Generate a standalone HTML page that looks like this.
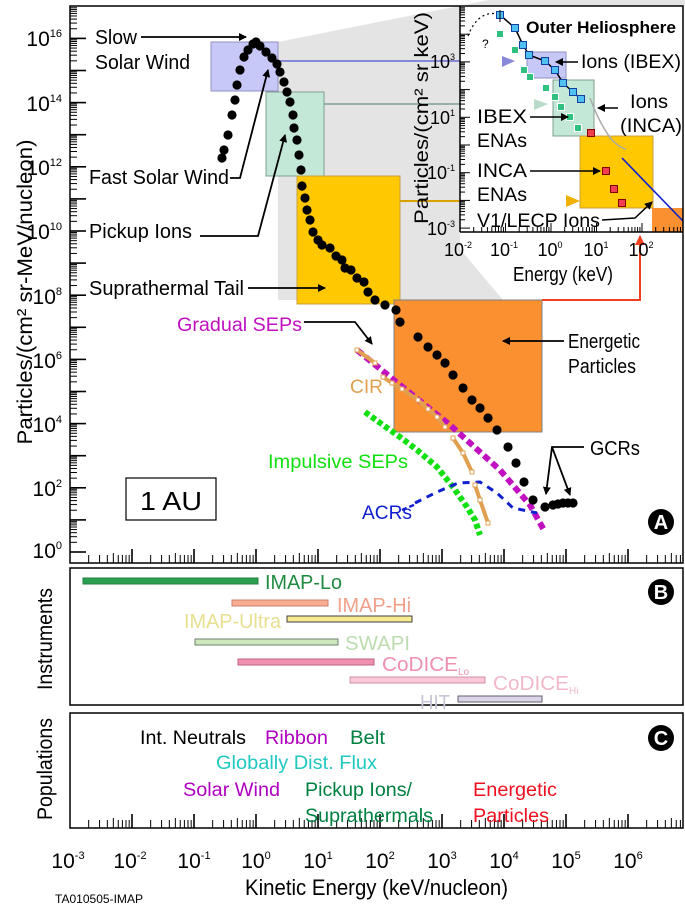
<!DOCTYPE html>
<html><head><meta charset="utf-8"><style>
html,body{margin:0;padding:0;background:#fff;}
svg{display:block;font-family:"Liberation Sans",sans-serif;}
</style></head><body>
<svg id="s" width="685" height="910" viewBox="0 0 685 910" xmlns="http://www.w3.org/2000/svg">
<defs>
<marker id="ah" markerWidth="8" markerHeight="8" refX="7" refY="4" orient="auto" markerUnits="userSpaceOnUse"><path d="M0,0 L8,4 L0,8 z" fill="#000"/></marker>
<marker id="ahr" markerWidth="10" markerHeight="10" refX="9" refY="5" orient="auto" markerUnits="userSpaceOnUse"><path d="M0,0 L10,5 L0,10 z" fill="#f04020"/></marker>
</defs>
<rect x="0" y="0" width="685" height="910" fill="#fff"/>
<polygon points="278,42 690,-40 690,6 460,6 460,249 503,300 278,300" fill="#e4e4e4"/>
<line x1="278" y1="61" x2="515" y2="61" stroke="#8888d8" stroke-width="2"/>
<line x1="324" y1="104" x2="545" y2="104" stroke="#80a090" stroke-width="1.5"/>
<line x1="400" y1="201" x2="578" y2="201" stroke="#d8a000" stroke-width="2"/>
<rect x="211" y="42" width="67" height="49" fill="#c8c8f8" stroke="#9090c0"/>
<rect x="266" y="92" width="58" height="84" fill="#c4e8d8" stroke="#80a090"/>
<rect x="297" y="176" width="103" height="128" fill="#ffc800" stroke="#c8a040"/>
<rect x="394" y="300" width="148" height="132" fill="#fa9030" stroke="#808080"/>
<polyline points="542,300 640,300 640,236" fill="none" stroke="#f04020" stroke-width="2" marker-end="url(#ahr)"/>
<rect x="460" y="6" width="223" height="226" fill="#fff"/>
<rect x="527" y="52" width="39" height="26" fill="#c8c8f8" stroke="#9090c0"/>
<rect x="553" y="80" width="41" height="56" fill="#c4e8d8" stroke="#80a090"/>
<rect x="580" y="136" width="73" height="72" fill="#ffc800" stroke="#c8a040"/>
<rect x="652" y="208" width="31" height="24" fill="#fa9030"/>
<polygon points="502,56 515,61 502,67" fill="#8888d8"/>
<polygon points="534,99 548,104 534,110" fill="#b8dcc8"/>
<polygon points="566,195 580,201 566,207" fill="#f0b000"/>
<path d="M590,98 Q600,125 612,140 Q620,148 626,149" fill="none" stroke="#aaa" stroke-width="1.5"/>
<line x1="622" y1="158" x2="683" y2="221" stroke="#1020d0" stroke-width="1.6"/>
<path d="M468,36 Q478,10 498,14" fill="none" stroke="#000" stroke-dasharray="2,3" stroke-width="1.2"/>
<text x="482" y="48" font-size="12">?</text>
<g id="inset"></g>
<line x1="460" y1="6" x2="460" y2="232" stroke="#000" stroke-width="1.5"/>
<line x1="460" y1="232" x2="683" y2="232" stroke="#000" stroke-width="1.5"/>
<g font-size="19" fill="#000">
<text x="526" y="33" font-weight="bold" font-size="17" textLength="150" lengthAdjust="spacingAndGlyphs">Outer Heliosphere</text>
<text x="581" y="68" textLength="100" lengthAdjust="spacingAndGlyphs">Ions (IBEX)</text>
<text x="630" y="108" textLength="38" lengthAdjust="spacingAndGlyphs">Ions</text><text x="620" y="132" textLength="62" lengthAdjust="spacingAndGlyphs">(INCA)</text>
<text x="477" y="123" textLength="50" lengthAdjust="spacingAndGlyphs">IBEX</text><text x="477" y="147" textLength="50" lengthAdjust="spacingAndGlyphs">ENAs</text>
<text x="477" y="177" textLength="50" lengthAdjust="spacingAndGlyphs">INCA</text><text x="477" y="201" textLength="50" lengthAdjust="spacingAndGlyphs">ENAs</text>
<text x="477" y="227" textLength="123" lengthAdjust="spacingAndGlyphs">V1/LECP Ions</text>
<text x="513" y="281" font-size="20" textLength="100" lengthAdjust="spacingAndGlyphs">Energy (keV)</text>
</g>
<line x1="578" y1="62" x2="556" y2="62" stroke="#000" stroke-width="1.5" marker-end="url(#ah)"/>
<line x1="618" y1="108" x2="598" y2="108" stroke="#000" stroke-width="1.5" marker-end="url(#ah)"/>
<line x1="530" y1="117" x2="568" y2="117" stroke="#000" stroke-width="1.5" marker-end="url(#ah)"/>
<line x1="530" y1="171" x2="600" y2="171" stroke="#000" stroke-width="1.5" marker-end="url(#ah)"/>
<polyline points="602,220 635,218 652,202" fill="none" stroke="#000" stroke-width="1.5" marker-end="url(#ah)"/>
<text transform="translate(428,118) rotate(-90)" text-anchor="middle" font-size="19" textLength="212" lengthAdjust="spacingAndGlyphs">Particles/(cm² sr keV)</text>
<g font-size="18" text-anchor="middle">
<text x="458" y="256">10<tspan font-size="9" dy="-8">-2</tspan></text>
<text x="504" y="256">10<tspan font-size="9" dy="-8">-1</tspan></text>
<text x="550" y="256">10<tspan font-size="9" dy="-8">0</tspan></text>
<text x="596" y="256">10<tspan font-size="9" dy="-8">1</tspan></text>
<text x="641" y="256">10<tspan font-size="9" dy="-8">2</tspan></text>
</g>
<g font-size="18" text-anchor="end">
<text x="455" y="68">10<tspan font-size="9" dy="-8">3</tspan></text>
<text x="455" y="124">10<tspan font-size="9" dy="-8">1</tspan></text>
<text x="455" y="179">10<tspan font-size="9" dy="-8">-1</tspan></text>
<text x="455" y="235">10<tspan font-size="9" dy="-8">-3</tspan></text>
</g>
<rect x="70" y="6" width="613" height="557" fill="none" stroke="#000" stroke-width="1.5"/>
<rect x="70" y="568" width="613" height="137" fill="none" stroke="#000" stroke-width="1.5"/>
<rect x="70" y="713" width="613" height="115" fill="none" stroke="#000" stroke-width="1.5"/>
<g id="ticks"></g>
<g id="series"></g>
<g font-size="20" fill="#000">
<text x="95" y="44" textLength="42" lengthAdjust="spacingAndGlyphs">Slow</text><text x="95" y="69" textLength="95" lengthAdjust="spacingAndGlyphs">Solar Wind</text>
<text x="89" y="184" textLength="140" lengthAdjust="spacingAndGlyphs">Fast Solar Wind</text>
<text x="89" y="238" textLength="103" lengthAdjust="spacingAndGlyphs">Pickup Ions</text>
<text x="89" y="295" textLength="155" lengthAdjust="spacingAndGlyphs">Suprathermal Tail</text>
<text x="568" y="348" textLength="72" lengthAdjust="spacingAndGlyphs">Energetic</text><text x="568" y="373" textLength="68" lengthAdjust="spacingAndGlyphs">Particles</text>
<text x="590" y="455" textLength="50" lengthAdjust="spacingAndGlyphs">GCRs</text>
</g>
<text x="177" y="331" font-size="19" fill="#c010c0" textLength="125" lengthAdjust="spacingAndGlyphs">Gradual SEPs</text>
<text x="350" y="393" font-size="19" fill="#e0a050" textLength="33" lengthAdjust="spacingAndGlyphs">CIR</text>
<text x="268" y="468" font-size="19" fill="#10e010" textLength="140" lengthAdjust="spacingAndGlyphs">Impulsive SEPs</text>
<text x="362" y="519" font-size="19" fill="#1020d0" textLength="50" lengthAdjust="spacingAndGlyphs">ACRs</text>
<rect x="126" y="478" width="90" height="42" fill="#fff" stroke="#000" stroke-width="1.2"/>
<text x="171" y="510" font-size="26" text-anchor="middle" textLength="62" lengthAdjust="spacingAndGlyphs">1 AU</text>
<g stroke="#000" stroke-width="1.8" fill="none">
<line x1="141" y1="37" x2="246" y2="37" marker-end="url(#ah)"/>
<polyline points="230,178 240,178 268,70" marker-end="url(#ah)"/>
<polyline points="200,236 258,236 285,135" marker-end="url(#ah)"/>
<line x1="248" y1="288" x2="325" y2="288" marker-end="url(#ah)"/>
<polyline points="304,322 355,322 372,344" marker-end="url(#ah)"/>
<line x1="564" y1="341" x2="503" y2="341" marker-end="url(#ah)"/>
<polyline points="584,447 552,447 546,494" marker-end="url(#ah)"/>
<line x1="552" y1="447" x2="570" y2="495" marker-end="url(#ah)"/>
</g>
<line x1="402" y1="510" x2="416" y2="504" stroke="#1020d0" stroke-width="2.5" stroke-dasharray="5,3"/>
<text transform="translate(32,292) rotate(-90)" text-anchor="middle" font-size="21" textLength="305" lengthAdjust="spacingAndGlyphs">Particles/(cm² sr-MeV/nucleon)</text>
<g font-size="21" text-anchor="end">
<text x="62" y="46">10<tspan font-size="11" dy="-9">16</tspan></text>
<text x="62" y="111">10<tspan font-size="11" dy="-9">14</tspan></text>
<text x="62" y="175">10<tspan font-size="11" dy="-9">12</tspan></text>
<text x="62" y="239">10<tspan font-size="11" dy="-9">10</tspan></text>
<text x="62" y="304">10<tspan font-size="11" dy="-9">8</tspan></text>
<text x="62" y="368">10<tspan font-size="11" dy="-9">6</tspan></text>
<text x="62" y="432">10<tspan font-size="11" dy="-9">4</tspan></text>
<text x="62" y="496">10<tspan font-size="11" dy="-9">2</tspan></text>
<text x="62" y="558">10<tspan font-size="11" dy="-9">0</tspan></text>
</g>
<g font-size="20" font-weight="bold" fill="#fff" text-anchor="middle">
<circle cx="661" cy="522" r="13" fill="#000"/><text x="661" y="529">A</text>
<circle cx="661" cy="592" r="13" fill="#000"/><text x="661" y="599">B</text>
<circle cx="661" cy="738" r="13" fill="#000"/><text x="661" y="745">C</text>
</g>
<g stroke-width="1">
<rect x="83" y="578" width="175" height="6" fill="#2aa050" stroke="#208040"/>
<rect x="232" y="600" width="96" height="6" fill="#f7ad90" stroke="#d08070"/>
<rect x="287" y="616" width="125" height="6" fill="#f7ea90" stroke="#404040"/>
<rect x="195" y="639" width="143" height="6" fill="#cce8bc" stroke="#708070"/>
<rect x="238" y="659" width="136" height="6" fill="#f090b0" stroke="#c06080"/>
<rect x="350" y="677" width="135" height="6" fill="#f8c8d8" stroke="#d090a0"/>
<rect x="458" y="696" width="84" height="6" fill="#dcd4e8" stroke="#606070"/>
</g>
<g font-size="20">
<text x="265" y="589" fill="#208a40" textLength="77" lengthAdjust="spacingAndGlyphs">IMAP-Lo</text>
<text x="337" y="612" fill="#f0a088" textLength="74" lengthAdjust="spacingAndGlyphs">IMAP-Hi</text>
<text x="184" y="628" fill="#e8e090" textLength="97" lengthAdjust="spacingAndGlyphs">IMAP-Ultra</text>
<text x="345" y="650" fill="#bcdcb0" textLength="65" lengthAdjust="spacingAndGlyphs">SWAPI</text>
<text x="382" y="671" fill="#f090b0"><tspan textLength="76" lengthAdjust="spacingAndGlyphs">CoDICE</tspan><tspan font-size="10" dy="4">Lo</tspan></text>
<text x="493" y="690" fill="#f0b8c8"><tspan textLength="76" lengthAdjust="spacingAndGlyphs">CoDICE</tspan><tspan font-size="10" dy="4">Hi</tspan></text>
<text x="420" y="709" fill="#c8c4d8" textLength="30" lengthAdjust="spacingAndGlyphs">HIT</text>
</g>
<g font-size="19">
<text x="140" y="744" fill="#000" textLength="106" lengthAdjust="spacingAndGlyphs">Int. Neutrals</text>
<text x="265" y="744" fill="#b000c0" textLength="63" lengthAdjust="spacingAndGlyphs">Ribbon</text>
<text x="350" y="744" fill="#008040" textLength="35" lengthAdjust="spacingAndGlyphs">Belt</text>
<text x="216" y="769" fill="#20c8c0" textLength="161" lengthAdjust="spacingAndGlyphs">Globally Dist. Flux</text>
<text x="183" y="796" fill="#b000c0" textLength="97" lengthAdjust="spacingAndGlyphs">Solar Wind</text>
<text x="305" y="796" fill="#008040" textLength="107" lengthAdjust="spacingAndGlyphs">Pickup Ions/</text>
<text x="305" y="822" fill="#008040" textLength="128" lengthAdjust="spacingAndGlyphs">Suprathermals</text>
<text x="473" y="796" fill="#f01020" textLength="84" lengthAdjust="spacingAndGlyphs">Energetic</text>
<text x="473" y="822" fill="#f01020" textLength="76" lengthAdjust="spacingAndGlyphs">Particles</text>
</g>
<text transform="translate(52,639) rotate(-90)" text-anchor="middle" font-size="21" textLength="102" lengthAdjust="spacingAndGlyphs">Instruments</text>
<text transform="translate(52,769) rotate(-90)" text-anchor="middle" font-size="21" textLength="102" lengthAdjust="spacingAndGlyphs">Populations</text>
<g font-size="21" text-anchor="middle">
<text x="68" y="868">10<tspan font-size="11" dy="-9">-3</tspan></text>
<text x="130" y="868">10<tspan font-size="11" dy="-9">-2</tspan></text>
<text x="194" y="868">10<tspan font-size="11" dy="-9">-1</tspan></text>
<text x="256" y="868">10<tspan font-size="11" dy="-9">0</tspan></text>
<text x="318" y="868">10<tspan font-size="11" dy="-9">1</tspan></text>
<text x="380" y="868">10<tspan font-size="11" dy="-9">2</tspan></text>
<text x="442" y="868">10<tspan font-size="11" dy="-9">3</tspan></text>
<text x="504" y="868">10<tspan font-size="11" dy="-9">4</tspan></text>
<text x="566" y="868">10<tspan font-size="11" dy="-9">5</tspan></text>
<text x="628" y="868">10<tspan font-size="11" dy="-9">6</tspan></text>
</g>
<text x="245" y="895" font-size="22" textLength="263" lengthAdjust="spacingAndGlyphs">Kinetic Energy (keV/nucleon)</text>
<text x="55" y="903" font-size="12" textLength="88" lengthAdjust="spacingAndGlyphs">TA010505-IMAP</text>
</svg>
<script>
(function(){
var NS="http://www.w3.org/2000/svg";
function el(p,t,a){var e=document.createElementNS(NS,t);for(var k in a)e.setAttribute(k,a[k]);p.appendChild(e);return e;}
var T=document.getElementById("ticks"),S=document.getElementById("series"),I=document.getElementById("inset");
[563,828].forEach(function(yb){
 for(var d=-3;d<7;d++){for(var m=1;m<10;m++){var x=256+62*(d+Math.log10(m));if(x<71||x>682)continue;
  var L=m==1?14:(m==5?10:8);el(T,"line",{x1:x,y1:yb,x2:x,y2:yb-L,stroke:"#000","stroke-width":m==1?1.6:1});}}
});
for(var d=0;d<17;d++){for(var m=1;m<10;m++){var y=552-32.1*(d+Math.log10(m));if(y<7||y>562)continue;
 var L=m==1?16:7;el(T,"line",{x1:70,y1:y,x2:70+L,y2:y,stroke:"#000","stroke-width":m==1?1.6:1});}}
for(var d=-2;d<3;d++){for(var m=1;m<10;m++){var x=551+45.5*(d+Math.log10(m));if(x<460||x>683)continue;
 el(I,"line",{x1:x,y1:232,x2:x,y2:232-(m==1?9:5),stroke:"#000","stroke-width":1});}}
for(var d=-3;d<5;d++){for(var m=1;m<10;m++){var y=145-27.7*(d+Math.log10(m));if(y<6||y>232)continue;
 el(I,"line",{x1:460,y1:y,x2:460+(m==1?10:5),y2:y,stroke:"#000","stroke-width":1});}}
var ib=[[500,15],[515,28],[523,45],[529,55],[545,61],[555,70],[563,83],[573,92],[581,99]];
el(I,"polyline",{points:ib.map(function(p){return p.join(",")}).join(" "),fill:"none",stroke:"#000","stroke-width":1.5});
ib.forEach(function(p){el(I,"rect",{x:p[0]-3.5,y:p[1]-3.5,width:7,height:7,fill:"#50c0f0",stroke:"#1040a0"});});
el(I,"line",{x1:500,y1:10,x2:500,y2:22,stroke:"#000"});
[[500,34],[515,50],[524,70],[530,77],[546,88],[555,97],[561,107],[570,117],[578,128]].forEach(function(p){el(I,"rect",{x:p[0]-3.5,y:p[1]-3.5,width:7,height:7,fill:"#30c080",stroke:"#fff"});});
[[591,133],[606,171],[614,189],[622,203]].forEach(function(p){el(I,"rect",{x:p[0]-3.5,y:p[1]-3.5,width:7,height:7,fill:"#f04050",stroke:"#800"});});
function pl(pts,c,w,da){el(S,"polyline",{points:pts.map(function(p){return p.join(",")}).join(" "),fill:"none",stroke:c,"stroke-width":w,"stroke-dasharray":da,"stroke-linecap":"butt"});}
pl([[365,412],[383,425],[400,437],[417,450],[437,467],[453,487],[467,507],[475,520],[480,535]],"#10e010",6,"5,3");
pl([[357,350],[400,385],[450,425],[500,470],[530,505],[545,532]],"#c010c0",6,"7,4");
pl([[415,503],[437,492],[458,483],[480,482],[497,493],[513,508],[537,513]],"#1020d0",3,"7,6");
[[[357,350],[375,363]],[[383,377],[392,383],[402,389],[418,400],[428,409],[437,417],[445,427]],[[453,438],[463,453],[472,472]],[[475,485],[480,500],[488,523]]].forEach(function(s){pl(s,"#e0a050",4,"none");s.forEach(function(p){el(S,"rect",{x:p[0]-2,y:p[1]-2,width:4,height:4,fill:"#fff",stroke:"#e0a050"});});});
var dots=[[222,158],[224,150],[228,135],[232,115],[235,100],[237,85],[240,70],[244,57],[248,50],[253,44],[256,42],[260,46],[266,52],[272,58],[277,64],[280,72],[284,82],[287,92],[290,102],[293,115],[294,128],[297,140],[299,155],[301,170],[302,186],[305,198],[307,210],[310,220],[313,232],[318,240],[322,245],[330,248],[336,256],[342,260],[345,268],[351,270],[357,278],[364,282],[368,292],[375,300],[385,305],[396,310],[400,322],[418,337],[428,347],[437,355],[445,363],[453,375],[463,388],[472,400],[480,408],[488,418],[497,430],[508,447],[516,463],[524,482],[533,500],[545,507],[553,505],[558,504],[563,503],[568,503],[573,503]];
dots.forEach(function(p){el(S,"circle",{cx:p[0],cy:p[1],r:4.6,fill:"#000"});});
})();
</script>
</body></html>
